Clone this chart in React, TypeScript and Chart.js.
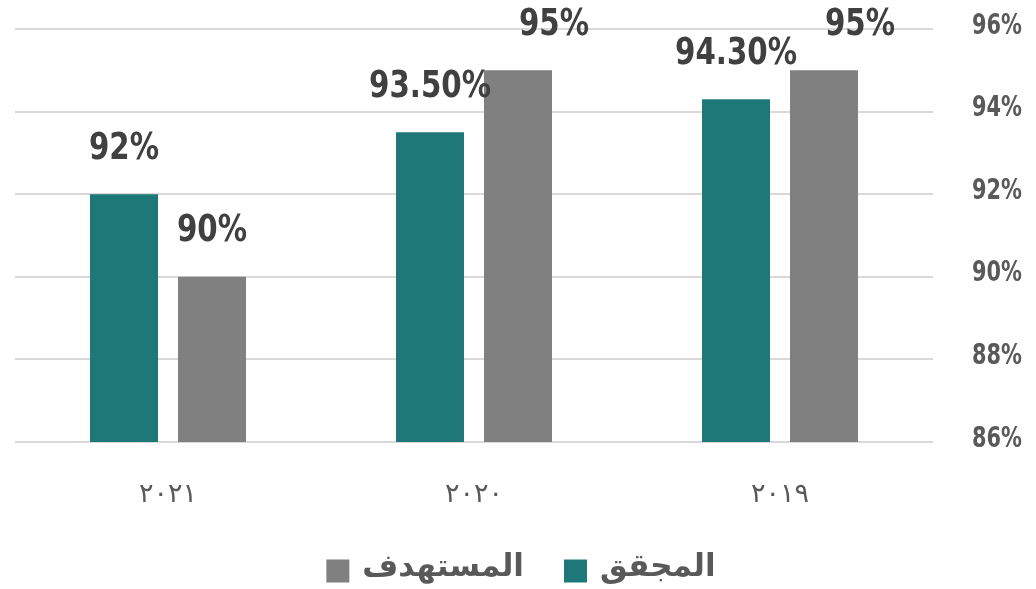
import React, { useEffect, useRef } from "react";
import { Chart, registerables } from "chart.js";

Chart.register(...registerables);

const categories = ["٢٠٢١", "٢٠٢٠", "٢٠١٩"];
const achieved = [92, 93.5, 94.3];
const target = [90, 95, 95];
const achievedLabels = ["92%", "93.50%", "94.30%"];
const targetLabels = ["90%", "95%", "95%"];
const seriesNames = ["المجقق", "المستهدف"];
const seriesColors = ["#1E7878", "#808080"];
const yMin = 86;
const yMax = 96;
const yStep = 2;

const COND = "'DejaVu Sans Condensed', 'DejaVu Sans', sans-serif";

function drawNarrow(ctx: any, text: string, x: number, y: number, sx: number, align: string) {
  ctx.save();
  ctx.translate(x, y);
  ctx.scale(sx, 1);
  ctx.textAlign = align;
  ctx.fillText(text, 0, 0);
  ctx.restore();
}

// labels sitting near the top edge are nudged right (as in the source chart)
const topLabelNudge = 36;

const valueLabelPlugin = {
  id: "valueLabels",
  afterDatasetsDraw(chart: any) {
    const ctx = chart.ctx;
    const labelSets = [achievedLabels, targetLabels];
    ctx.save();
    ctx.font = "bold 37px " + COND;
    ctx.fillStyle = "#404040";
    ctx.textBaseline = "middle";
    chart.data.datasets.forEach((_ds: any, di: number) => {
      const meta = chart.getDatasetMeta(di);
      meta.data.forEach((bar: any, i: number) => {
        const y = bar.y - 45;
        const dx = y < chart.chartArea.top ? topLabelNudge : 0;
        drawNarrow(ctx, labelSets[di][i], bar.x + dx, y, 0.88, "center");
      });
    });
    ctx.restore();
  },
};

const yTickPlugin = {
  id: "yTickLabels",
  afterDraw(chart: any) {
    const ctx = chart.ctx;
    const scale = chart.scales.y;
    ctx.save();
    ctx.font = "bold 29px " + COND;
    ctx.fillStyle = "#595959";
    ctx.textBaseline = "middle";
    scale.ticks.forEach((t: any) => {
      const y = scale.getPixelForValue(t.value);
      drawNarrow(ctx, t.value + "%", 1022, y - 3, 0.8, "right");
    });
    ctx.restore();
  },
};

const legendPlugin = {
  id: "rtlLegend",
  afterDraw(chart: any) {
    const ctx = chart.ctx;
    ctx.save();
    ctx.font = "bold 31px 'DejaVu Sans', sans-serif";
    ctx.textBaseline = "middle";
    ctx.textAlign = "left";
    const box = 23;
    const gap = 13;
    const itemGap = 40;
    const widths = seriesNames.map((n) => box + gap + ctx.measureText(n).width);
    const total = widths.reduce((a, b) => a + b, 0) + itemGap * (widths.length - 1);
    const cy = 571;
    // RTL order: first item on the right
    let right = chart.width / 2 + total / 2 + 3;
    seriesNames.forEach((name, i) => {
      const left = right - widths[i];
      ctx.fillStyle = seriesColors[i];
      ctx.fillRect(left, cy - box / 2, box, box);
      ctx.fillStyle = "#595959";
      ctx.fillText(name, left + box + gap, cy - 3);
      right = left - itemGap;
    });
    ctx.restore();
  },
};

export default function App() {
  const canvasRef = useRef<HTMLCanvasElement>(null);

  useEffect(() => {
    document.body.style.margin = "0";
    const chart = new Chart(canvasRef.current as HTMLCanvasElement, {
      type: "bar",
      data: {
        labels: categories,
        datasets: [
          {
            label: seriesNames[0],
            data: achieved,
            backgroundColor: seriesColors[0],
            categoryPercentage: 0.575,
            barPercentage: 0.773,
          },
          {
            label: seriesNames[1],
            data: target,
            backgroundColor: seriesColors[1],
            categoryPercentage: 0.575,
            barPercentage: 0.773,
          },
        ],
      },
      options: {
        animation: false,
        responsive: false,
        maintainAspectRatio: false,
        layout: { padding: { left: 15, top: 29, right: 0, bottom: 0 } },
        plugins: {
          tooltip: { enabled: false },
          legend: { display: false },
        },
        scales: {
          x: {
            grid: { display: false },
            border: { display: false },
            afterFit: (scale: any) => {
              scale.height = 147;
            },
            ticks: {
              color: "#595959",
              padding: 29,
              font: { family: "'DejaVu Sans', sans-serif", size: 27 },
            },
          },
          y: {
            position: "right",
            min: yMin,
            max: yMax,
            grid: { color: "#d9d9d9", lineWidth: 2, drawTicks: false },
            border: { display: false },
            afterFit: (scale: any) => {
              scale.width = 103;
            },
            ticks: {
              stepSize: yStep,
              display: false,
            },
          },
        },
      },
      plugins: [valueLabelPlugin, yTickPlugin, legendPlugin],
    });
    return () => chart.destroy();
  }, []);

  return (
    <div style={{ width: 1036, height: 589 }}>
      <canvas ref={canvasRef} width={1036} height={589} style={{ display: "block" }} />
    </div>
  );
}
